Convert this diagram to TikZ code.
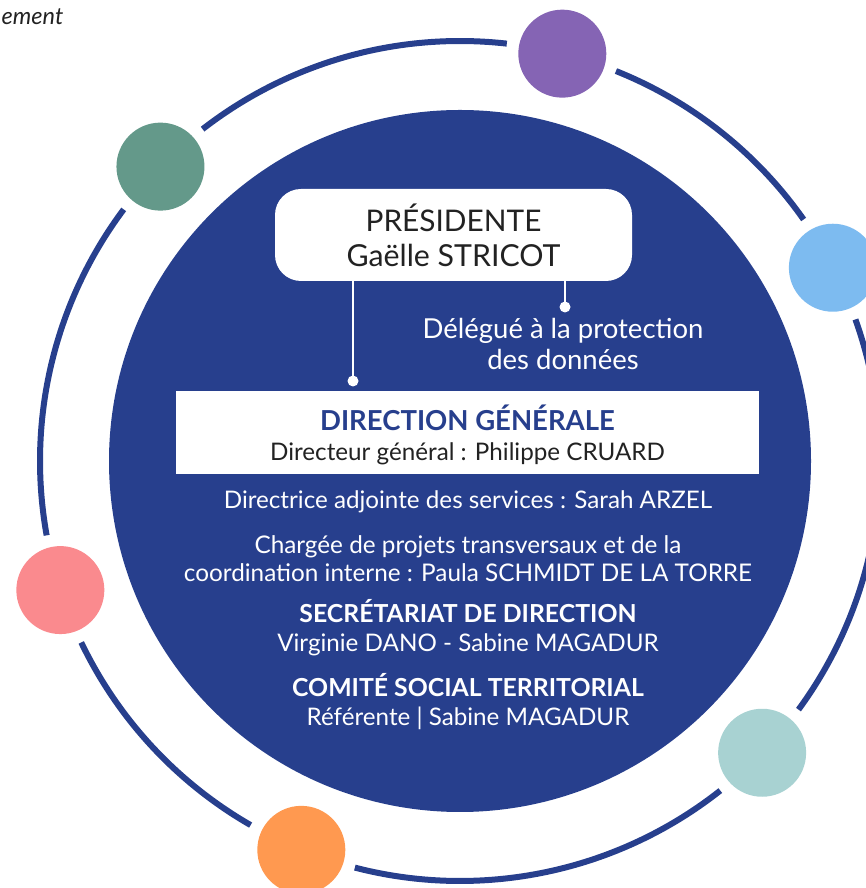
\documentclass[tikz,border=0pt]{standalone}
\usepackage{fontspec}
\setmainfont{Lato}

\definecolor{navy}{HTML}{273F8D}
\definecolor{inkgray}{HTML}{222222}
\definecolor{sage}{HTML}{64998A}
\definecolor{lilac}{HTML}{8564B4}
\definecolor{sky}{HTML}{7DBBF0}
\definecolor{rose}{HTML}{FA8A8E}
\definecolor{apricot}{HTML}{FF9950}
\definecolor{mint}{HTML}{A8D2D2}

\tikzset{
  ring/.style={navy, line width=6pt},
  bubble/.style={circle, minimum size=88pt, inner sep=0pt},
  link/.style={white, line width=2pt},
  presbox/.style={fill=white, rounded corners=26pt, minimum width=357pt, minimum height=92pt, align=center, text=inkgray, text depth=0pt},
  dgbox/.style={fill=white, minimum width=583pt, minimum height=83pt, align=center, text=inkgray, text depth=0pt},
  onblue/.style={text=white, align=center, inner sep=0pt}
}

\begin{document}
\begin{tikzpicture}[x=1pt,y=1pt]

\useasboundingbox (0,0) rectangle (865,888);

\coordinate (C) at (460,427);

\fill [navy] (C) circle (351);

\foreach \a/\b in {27.4/75.9, 75.9/135.5, 135.5/197.9, 197.9/247.8, 247.8/316, 316/387.4}
  \draw [ring] (C) ++(\a+7.7:420) arc [start angle=\a+7.7, end angle=\b-7.7, radius=420];

\foreach \ang/\col/\nm in {27.4/sky/b1, 75.9/lilac/b2, 135.5/sage/b3, 197.9/rose/b4, 247.8/apricot/b5, 316/mint/b6}
  \path (C) ++(\ang:420) node [bubble, fill=\col] (\nm) {};

\node [anchor=base west, inner sep=0pt, text=inkgray, font=\itshape\fontsize{23.5}{27}\selectfont] (intro) at (1.5,863) {ement};

\node [presbox, font=\fontsize{29.8}{35}\selectfont] (pres) at (453.5,653) {PRÉSIDENTE\\{\fontsize{30.3}{35}\selectfont Gaëlle STRICOT}};

\coordinate (dgpin) at (353,507);
\coordinate (dpopin) at (565,581);
\draw [link] (pres.south -| dgpin) -- (dgpin);
\draw [link] (pres.south -| dpopin) -- (dpopin);
\fill [white] (dgpin) circle (5.5);
\fill [white] (dpopin) circle (5.5);

\node [onblue, anchor=base, font=\fontsize{27.5}{31}\selectfont] (dpo) at (563,518) {Délégué à la protection\\des données};

\node [dgbox, font=\fontsize{24.2}{29.5}\selectfont] (dg) at (467.5,455.5) {{\fontsize{27.5}{29.5}\selectfont\bfseries\color{navy}DIRECTION GÉNÉRALE}\\Directeur général : Philippe CRUARD};

\node [onblue, anchor=base, font=\fontsize{24.2}{28}\selectfont] (das) at (468,379) {Directrice adjointe des services : Sarah ARZEL};
\node [onblue, anchor=base, font=\fontsize{24.3}{28}\selectfont] (cpt) at (468,306) {Chargée de projets transversaux et de la\\coordination interne : Paula SCHMIDT DE LA TORRE};
\node [onblue, anchor=base, font=\fontsize{24.2}{29}\selectfont] (sec) at (468,236) {{\fontsize{24.8}{29}\selectfont\bfseries SECRÉTARIAT DE DIRECTION}\\Virginie DANO - Sabine MAGADUR};
\node [onblue, anchor=base, font=\fontsize{24.2}{29}\selectfont] (cst) at (468,162) {{\fontsize{24.8}{29}\selectfont\bfseries COMITÉ SOCIAL TERRITORIAL}\\Référente | Sabine MAGADUR};

\end{tikzpicture}
\end{document}
